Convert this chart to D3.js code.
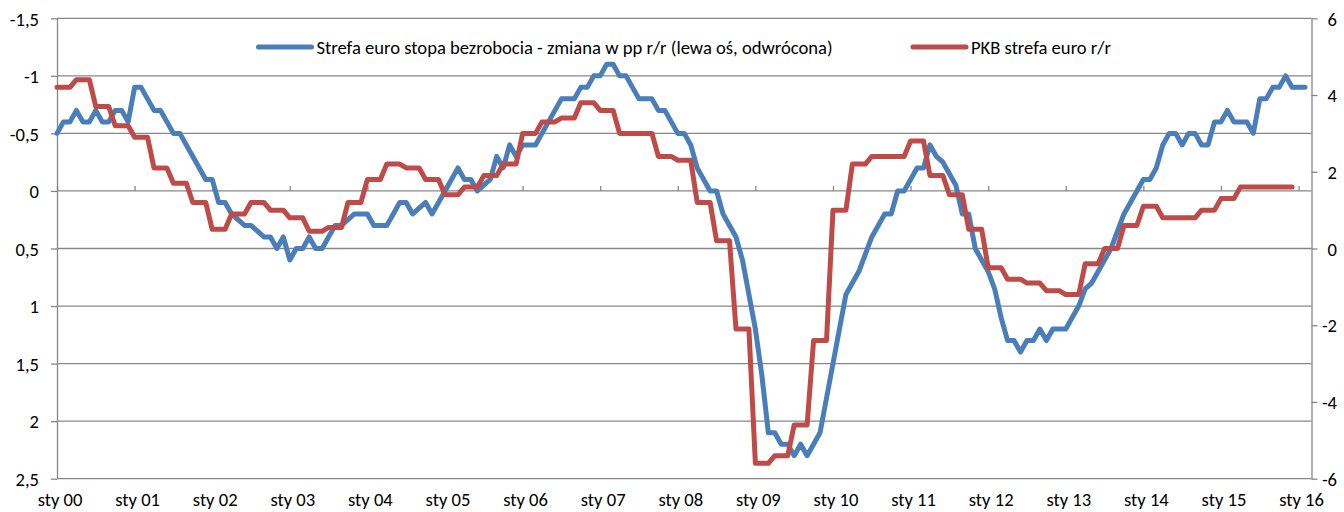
<!DOCTYPE html>
<html>
<head>
<meta charset="utf-8">
<title>Strefa euro - bezrobocie i PKB</title>
<script src="https://d3js.org/d3.v7.min.js"></script>
<style>
  body { margin: 0; background: #fff; }
  svg { display: block; background: #fff; }
  text { font-family: Calibri, Carlito, Lato, sans-serif; font-size: 18.6px; fill: #000; }
  .grid line { stroke: #878787; stroke-width: 1.3px; }
  .axis path, .axis line { stroke: #878787; stroke-width: 1.3px; }
</style>
</head>
<body>
<div id="chart"></div>
<script>
// etykiety osi X (styczen kazdego roku)
var etykietyX = ["sty 00", "sty 01", "sty 02", "sty 03", "sty 04", "sty 05", "sty 06", "sty 07", "sty 08",
                 "sty 09", "sty 10", "sty 11", "sty 12", "sty 13", "sty 14", "sty 15", "sty 16"];
var tickiLewe = [-1.5, -1, -0.5, 0, 0.5, 1, 1.5, 2, 2.5];
var tickiPrawe = [-6, -4, -2, 0, 2, 4, 6];

// stopa bezrobocia - zmiana w pp r/r, dane miesieczne od sty 2000
var bezrobocie = [
  -0.5, -0.6, -0.6, -0.7, -0.6, -0.6, -0.7, -0.6, -0.6, -0.7, -0.7, -0.6,   // 2000
  -0.9, -0.9, -0.8, -0.7, -0.7, -0.6, -0.5, -0.5, -0.4, -0.3, -0.2, -0.1,   // 2001
  -0.1, 0.1, 0.1, 0.2, 0.25, 0.3, 0.3, 0.35, 0.4, 0.4, 0.5, 0.4,           // 2002
  0.6, 0.5, 0.5, 0.4, 0.5, 0.5, 0.4, 0.3, 0.3, 0.25, 0.2, 0.2,             // 2003
  0.2, 0.3, 0.3, 0.3, 0.2, 0.1, 0.1, 0.2, 0.15, 0.1, 0.2, 0.1,             // 2004
  0.0, -0.1, -0.2, -0.1, -0.1, 0.0, -0.05, -0.1, -0.3, -0.2, -0.4, -0.3,   // 2005
  -0.4, -0.4, -0.4, -0.5, -0.6, -0.7, -0.8, -0.8, -0.8, -0.9, -0.9, -1.0,  // 2006
  -1.0, -1.1, -1.1, -1.0, -1.0, -0.9, -0.8, -0.8, -0.8, -0.7, -0.7, -0.6,  // 2007
  -0.5, -0.5, -0.4, -0.2, -0.1, 0.0, 0.0, 0.2, 0.3, 0.4, 0.6, 0.9,         // 2008
  1.2, 1.6, 2.1, 2.1, 2.2, 2.2, 2.3, 2.2, 2.3, 2.2, 2.1, 1.8,              // 2009
  1.5, 1.2, 0.9, 0.8, 0.7, 0.55, 0.4, 0.3, 0.2, 0.2, 0.0, 0.0,             // 2010
  -0.1, -0.2, -0.2, -0.4, -0.3, -0.25, -0.15, -0.05, 0.2, 0.2, 0.5, 0.6,   // 2011
  0.7, 0.85, 1.1, 1.3, 1.3, 1.4, 1.3, 1.3, 1.2, 1.3, 1.2, 1.2,             // 2012
  1.2, 1.1, 1.0, 0.85, 0.8, 0.7, 0.6, 0.5, 0.35, 0.2, 0.1, 0.0,            // 2013
  -0.1, -0.1, -0.2, -0.4, -0.5, -0.5, -0.4, -0.5, -0.5, -0.4, -0.4, -0.6,  // 2014
  -0.6, -0.7, -0.6, -0.6, -0.6, -0.5, -0.8, -0.8, -0.9, -0.9, -1.0, -0.9,  // 2015
  -0.9, -0.9                                                               // 2016
];

// PKB strefa euro r/r, dane kwartalne od I kw. 2000
var pkbKwartalnie = [
  4.2, 4.4, 3.7, 3.2,     // 2000
  2.9, 2.1, 1.7, 1.2,     // 2001
  0.5, 0.9, 1.2, 1.0,     // 2002
  0.8, 0.45, 0.55, 1.2,   // 2003
  1.8, 2.2, 2.1, 1.8,     // 2004
  1.4, 1.6, 1.9, 2.2,     // 2005
  3.0, 3.3, 3.4, 3.8,     // 2006
  3.6, 3.0, 3.0, 2.4,     // 2007
  2.3, 1.2, 0.2, -2.1,    // 2008
  -5.6, -5.4, -4.6, -2.4, // 2009
  1.0, 2.2, 2.4, 2.4,     // 2010
  2.8, 1.9, 1.4, 0.5,     // 2011
  -0.5, -0.8, -0.9, -1.1, // 2012
  -1.2, -0.4, 0.0, 0.6,   // 2013
  1.1, 0.8, 0.8, 1.0,     // 2014
  1.3, 1.6, 1.6, 1.6      // 2015
];

var serieNazwy = ["Strefa euro stopa bezrobocia - zmiana w pp r/r (lewa oś, odwrócona)", "PKB strefa euro r/r"];
var kolory = ["#4a7ebb", "#be4b48"];

// w arkuszu wartosc kwartalna powtarza sie w kazdym z 3 miesiecy
var pkb = [];
pkbKwartalnie.forEach(function (v) { pkb.push(v, v, v); });

var width = 1344, height = 512;
var pLeft = 57, pRight = 1311.5, pTop = 18.3, pBottom = 478.7;

var x = d3.scaleLinear().domain([0, 194]).range([pLeft, pRight]);
var yL = d3.scaleLinear().domain([-1.5, 2.5]).range([pTop, pBottom]);   // odwrocona
var yR = d3.scaleLinear().domain([-6, 6]).range([pBottom, pTop]);

var fmt = function (d) { return String(d).replace(".", ","); };

var svg = d3.select("#chart").append("svg")
    .attr("width", width).attr("height", height);

// linie siatki
svg.append("g").attr("class", "grid")
    .selectAll("line").data(tickiLewe).enter().append("line")
    .attr("x1", pLeft).attr("x2", pRight)
    .attr("y1", function (d) { return yL(d); })
    .attr("y2", function (d) { return yL(d); });

// os lewa
var osL = svg.append("g").attr("class", "axis")
    .attr("transform", "translate(" + pLeft + ",0)")
    .call(d3.axisLeft(yL).tickValues(tickiLewe).tickFormat(fmt).tickSize(6).tickSizeOuter(0).tickPadding(12));
osL.selectAll("text").attr("dy", "0.36em");

// os prawa
var osR = svg.append("g").attr("class", "axis")
    .attr("transform", "translate(" + pRight + ",0)")
    .call(d3.axisRight(yR).tickValues(tickiPrawe).tickFormat(String).tickSize(6).tickSizeOuter(0));
osR.selectAll("text").attr("text-anchor", "end").attr("x", 25.5).attr("dy", "0.36em");

// os X: kreski przy zerze lewej osi, etykiety na dole
var miesiaceSty = etykietyX.map(function (d, i) { return i * 12; });
var osX = svg.append("g").attr("class", "axis")
    .attr("transform", "translate(0," + yL(0) + ")")
    .call(d3.axisTop(x).tickValues(miesiaceSty).tickFormat("").tickSize(5).tickSizeOuter(0));
osX.select(".domain").remove();

var etX = svg.append("g").attr("class", "axis")
    .attr("transform", "translate(0," + pBottom + ")")
    .call(d3.axisBottom(x).tickValues(miesiaceSty)
        .tickFormat(function (d, i) { return etykietyX[i]; }).tickSize(0).tickPadding(0));
etX.select(".domain").remove();
etX.selectAll("text").attr("y", 27).attr("dy", 0).attr("x", 2.5);

// serie
var linia = d3.line()
    .x(function (d, i) { return x(i); });

svg.append("path").datum(bezrobocie)
    .attr("d", linia.y(function (d) { return yL(d); }))
    .attr("fill", "none").attr("stroke", kolory[0])
    .attr("stroke-width", 5).attr("stroke-linejoin", "round").attr("stroke-linecap", "round");

svg.append("path").datum(pkb)
    .attr("d", linia.y(function (d) { return yR(d); }))
    .attr("fill", "none").attr("stroke", kolory[1])
    .attr("stroke-width", 5).attr("stroke-linejoin", "round").attr("stroke-linecap", "round");

// legenda
var legX = [258.5, 913];
var leg = svg.append("g").selectAll("g").data(serieNazwy).enter().append("g")
    .attr("transform", function (d, i) { return "translate(" + legX[i] + ",47)"; });
leg.append("line")
    .attr("x1", 0).attr("x2", 53).attr("y1", 0).attr("y2", 0)
    .attr("stroke", function (d, i) { return kolory[i]; })
    .attr("stroke-width", 5).attr("stroke-linecap", "round");
leg.append("text")
    .attr("x", 58).attr("y", 0).attr("dy", "0.35em")
    .text(function (d) { return d; });
</script>
</body>
</html>
